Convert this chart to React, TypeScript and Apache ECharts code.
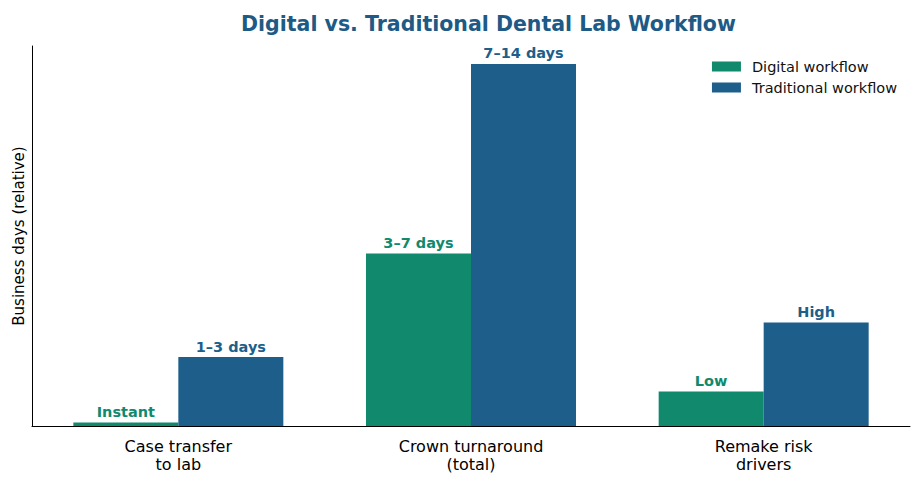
import React, { useEffect, useRef } from 'react';
import * as echarts from 'echarts';

const categories = ['Case transfer\nto lab', 'Crown turnaround\n(total)', 'Remake risk\ndrivers'];
const digitalValues = [0.1, 5, 1];
const traditionalValues = [2, 10.5, 3];
const digitalLabels = ['Instant', '3–7 days', 'Low'];
const traditionalLabels = ['1–3 days', '7–14 days', 'High'];

const GREEN = '#10896d';
const BLUE = '#1d5f8a';
const FONT = 'DejaVu Sans';

const App: React.FC = () => {
  const chartRef = useRef<HTMLDivElement | null>(null);

  useEffect(() => {
    document.body.style.margin = '0';
    let chart: echarts.ECharts | null = null;
    if (chartRef.current) {
      chart = echarts.init(chartRef.current, null, { renderer: 'svg' });

      const labelFor = (texts: string[], color: string) => ({
        show: true,
        position: 'top',
        distance: 3,
        color,
        fontFamily: FONT,
        fontWeight: 'bold',
        fontSize: 14.5,
        formatter: (p: any) => texts[p.dataIndex],
      });

      chart.setOption({
        animation: false,
        textStyle: { fontFamily: FONT },
        title: {
          text: 'Digital vs. Traditional Dental Lab Workflow',
          left: 236,
          top: 8,
          textStyle: { color: '#1d5a85', fontSize: 20.5, fontWeight: 'bold', fontFamily: FONT },
        },
        legend: {
          right: 20,
          top: 54,
          orient: 'vertical',
          align: 'left',
          icon: 'rect',
          itemWidth: 29,
          itemHeight: 10,
          itemGap: 6,
          textStyle: { fontSize: 14.5, color: '#111', fontFamily: FONT, padding: [0, 0, 0, 6] },
          data: ['Digital workflow', 'Traditional workflow'],
        },
        grid: { left: 32, right: 12, top: 46, bottom: 58 },
        xAxis: {
          type: 'category',
          data: categories,
          axisLine: { lineStyle: { color: '#000', width: 1 } },
          axisTick: { alignWithLabel: true, length: 4, lineStyle: { color: '#000' } },
          axisLabel: { fontSize: 16, color: '#000', lineHeight: 18, margin: 11, fontFamily: FONT },
        },
        yAxis: {
          type: 'value',
          min: 0,
          max: 11.02,
          name: 'Business days (relative)',
          nameLocation: 'middle',
          nameGap: 6,
          nameTextStyle: { fontSize: 15, color: '#000', fontFamily: FONT },
          axisLine: { show: true, lineStyle: { color: '#000', width: 1 } },
          axisTick: { show: false },
          axisLabel: { show: false },
          splitLine: { show: false },
        },
        series: [
          {
            name: 'Digital workflow',
            type: 'bar',
            data: digitalValues,
            barWidth: 105,
            barGap: '0%',
            itemStyle: { color: GREEN },
            label: labelFor(digitalLabels, GREEN),
          },
          {
            name: 'Traditional workflow',
            type: 'bar',
            data: traditionalValues,
            barWidth: 105,
            barGap: '0%',
            itemStyle: { color: BLUE },
            label: labelFor(traditionalLabels, BLUE),
          },
        ],
      });
    }
    return () => {
      chart?.dispose();
    };
  }, []);

  return <div ref={chartRef} style={{ width: 922, height: 484 }}></div>;
};

export default App;
